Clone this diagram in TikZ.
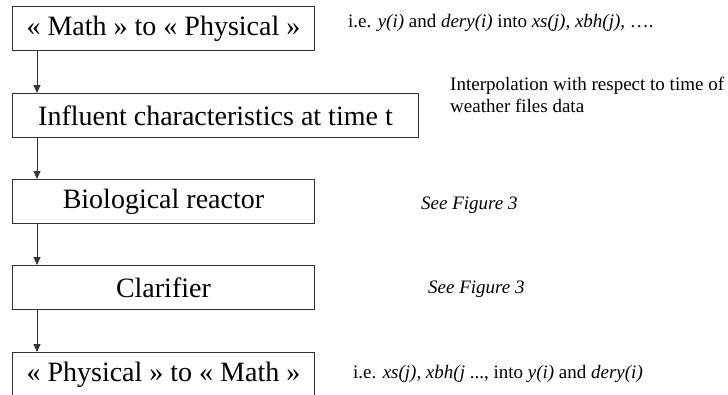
\documentclass[tikz,border=0pt]{standalone}
\usepackage{fontspec}
\setmainfont{Liberation Serif}
\usetikzlibrary{arrows.meta}
\begin{document}
\begin{tikzpicture}[x=1pt,y=-1pt,
  stage/.style={draw=black!80, line width=0.9pt, minimum height=44pt, inner sep=0pt,
    anchor=north west, font=\fontsize{28}{32}\selectfont},
  narrow/.style={stage, minimum width=302pt},
  wide/.style={stage, minimum width=406pt},
  note/.style={anchor=base west, inner sep=0pt, font=\fontsize{19}{22}\selectfont, align=left},
  flow/.style={draw=black!80, line width=0.9pt, -{Triangle[width=7pt,length=8pt]}}]
\useasboundingbox (0,0) rectangle (728,394);
\clip (0,0) rectangle (728,394);

% processing stages
\node[narrow] (m2p) at (12,6) {« Math » to « Physical »};
\node[wide]   (infl) at (12,93) {Influent characteristics at time t};
\node[narrow] (bio) at (12,179) {Biological reactor};
\node[narrow] (clar) at (12,265) {Clarifier};
\node[narrow] (p2m) at (12,352) {« Physical » to « Math »};

% arrows down the left side
\coordinate (ax) at (37,0);
\draw[flow] (m2p.south -| ax) -- (infl.north -| ax);
\draw[flow] (infl.south -| ax) -- (bio.north -| ax);
\draw[flow] (bio.south -| ax) -- (clar.north -| ax);
\draw[flow] (clar.south -| ax) -- (p2m.north -| ax);

% side notes
\node[note] (n1) at (348,27) {i.e. \textit{y(i)} and \textit{dery(i)} into \textit{xs(j), xbh(j),} ….};
\node[note] (n2) at (450,112) {Interpolation with respect to time of\\[-0.5pt]weather files data};
\node[note] (n3) at (421,209) {\textit{See Figure 3}};
\node[note] (n4) at (428,293) {\textit{See Figure 3}};
\node[note] (n5) at (353,378) {i.e. \textit{xs(j), xbh(j} ..., into \textit{y(i)} and \textit{dery(i)}};
\end{tikzpicture}
\end{document}
